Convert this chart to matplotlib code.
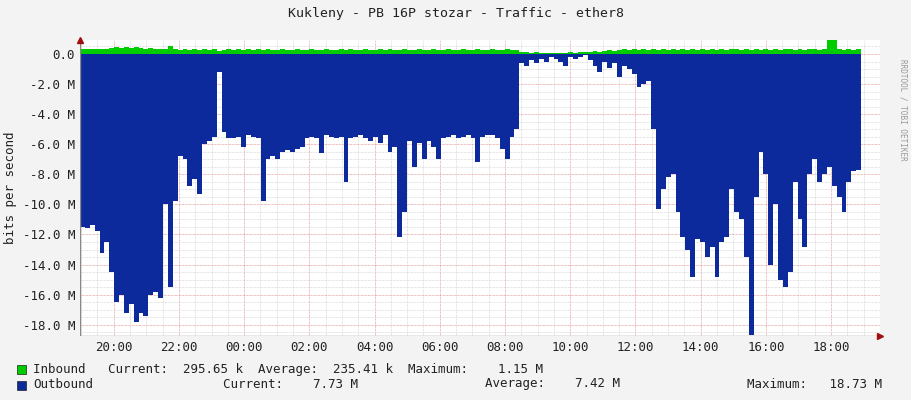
import matplotlib
matplotlib.use("Agg")
import matplotlib.pyplot as plt
import numpy as np

title = "Kukleny - PB 16P stozar - Traffic - ether8"
tick_labels = ["20:00","22:00","00:00","02:00","04:00","06:00","08:00","10:00","12:00","14:00","16:00","18:00"]
# hours relative to 20:00, sample step in hours
start_h = -1.033
step_h = 0.1497
span_h = 23.95
outbound = [11.5,11.6,11.4,11.8,13.2,12.5,14.5,16.5,16.0,17.2,16.6,17.8,17.2,17.4,16.0,15.8,16.2,10.0,15.5,9.8,
            6.8,7.0,8.8,8.3,9.3,6.0,5.8,5.5,1.2,5.2,5.6,5.6,5.5,6.2,5.4,5.5,5.6,9.8,7.0,6.8,
            7.0,6.5,6.4,6.5,6.3,6.2,5.6,5.5,5.6,6.6,5.4,5.5,5.6,5.5,8.5,5.6,5.5,5.4,5.6,5.8,
            5.5,5.9,5.4,6.5,6.2,12.2,10.5,5.8,7.5,5.9,7.0,5.8,6.2,7.0,5.6,5.5,5.4,5.6,5.5,5.4,
            5.6,7.2,5.5,5.4,5.4,5.6,6.3,7.0,5.5,5.0,0.6,0.8,0.4,0.6,0.3,0.5,0.2,0.3,0.5,0.8,
            0.2,0.3,0.2,0.1,0.4,0.8,1.2,0.5,0.9,0.6,1.5,0.8,1.0,1.3,2.2,2.0,1.8,5.0,10.3,9.0,
            8.2,8.0,10.5,12.2,13.0,14.8,12.3,12.5,13.5,12.8,14.8,12.5,12.2,9.0,10.5,11.0,13.5,18.7,9.5,6.5,
            8.0,14.0,10.0,15.0,15.5,14.5,8.5,11.0,12.8,8.0,7.0,8.5,8.0,7.5,8.8,9.5,10.5,8.5,7.8,7.7,7.7]
inbound = [0.35,0.3,0.35,0.3,0.3,0.35,0.4,0.45,0.4,0.45,0.4,0.45,0.4,0.35,0.4,0.35,0.3,0.3,0.5,0.3,
           0.25,0.3,0.25,0.3,0.25,0.3,0.25,0.3,0.2,0.25,0.3,0.25,0.3,0.25,0.3,0.25,0.3,0.25,0.3,0.25,
           0.25,0.3,0.25,0.25,0.3,0.25,0.25,0.3,0.25,0.25,0.3,0.25,0.25,0.3,0.25,0.3,0.25,0.25,0.3,0.25,
           0.25,0.3,0.25,0.3,0.25,0.25,0.3,0.25,0.25,0.3,0.25,0.25,0.3,0.25,0.25,0.3,0.25,0.25,0.3,0.25,
           0.25,0.3,0.25,0.25,0.3,0.25,0.25,0.3,0.25,0.25,0.1,0.1,0.08,0.1,0.08,0.05,0.05,0.06,0.05,0.08,
           0.1,0.08,0.1,0.12,0.15,0.2,0.15,0.2,0.25,0.2,0.25,0.3,0.25,0.3,0.25,0.3,0.25,0.3,0.25,0.3,
           0.25,0.3,0.25,0.3,0.25,0.3,0.25,0.3,0.25,0.3,0.25,0.3,0.25,0.35,0.3,0.25,0.3,0.25,0.3,0.25,
           0.3,0.25,0.3,0.25,0.3,0.35,0.25,0.3,0.25,0.3,0.35,0.25,0.3,1.1,0.9,0.3,0.25,0.3,0.25,0.3,0.3]

t = start_h + step_h * np.arange(len(outbound))
out = -np.array(outbound)
inn = np.array(inbound)

fig = plt.figure(figsize=(9.11, 4.0), dpi=100, facecolor="#f3f3f3")
ax = fig.add_axes([80/911, 1-336/400, 800/911, 296/400])
ax.set_facecolor("white")
ax.fill_between(t, out, 0, step="post", color="#0c2a9c", lw=0, zorder=3)
ax.fill_between(t, inn, 0, step="post", color="#00cc00", lw=0, zorder=3)
ax.set_xlim(start_h, start_h + span_h)
ax.set_ylim(-18.75, 0.93)

ax.set_xticks(np.arange(0, 24, 2))
ax.set_xticklabels(tick_labels)
ax.set_xticks(np.arange(-1, 24, 0.5), minor=True)
yt = np.arange(-18, 1, 2)
ax.set_yticks(yt)
ax.set_yticklabels(["0.0" if v == 0 else f"{v:.1f} M" for v in yt])
ax.set_yticks(np.arange(-18.5, 1, 0.5), minor=True)
ax.grid(True, which="minor", color="#cccccc", lw=0.5, ls=(0, (1, 1)), zorder=1)
ax.grid(True, which="major", color="#e08080", lw=0.5, ls=(0, (1, 1)), zorder=2)
ax.tick_params(which="both", length=0, labelsize=9, colors="#222222")
for lab in ax.get_xticklabels() + ax.get_yticklabels():
    lab.set_family("DejaVu Sans Mono")
for s in ax.spines.values():
    s.set_visible(False)
ax.axhline(ax.get_ylim()[0], color="#888888", lw=1, zorder=4)
ax.axvline(start_h, color="#888888", lw=1, zorder=4)
ax.set_ylabel("bits per second", family="DejaVu Sans Mono", fontsize=9, color="#222222")
ax.plot([1], [0], transform=ax.transAxes, marker=">", color="#a01010", ms=5, clip_on=False, zorder=5)
ax.plot([0], [1], transform=ax.transAxes, marker="^", color="#a01010", ms=5, clip_on=False, zorder=5)

fig.text(0.5, 1-14/400, title, ha="center", va="center", family="DejaVu Sans Mono", fontsize=9.5, color="#222222")
fig.text(903/911, 1-110/400, "RRDTOOL / TOBI OETIKER", rotation=270, ha="center", va="center",
         family="DejaVu Sans Mono", fontsize=5.5, color="#999999")

mono = dict(family="DejaVu Sans Mono", fontsize=9, color="#222222", va="center")
fig.patches.append(plt.Rectangle((17/911, 1-374/400), 9/911, 9/400, transform=fig.transFigure,
                                 facecolor="#00cc00", edgecolor="#222222", lw=0.5))
fig.patches.append(plt.Rectangle((17/911, 1-390/400), 9/911, 9/400, transform=fig.transFigure,
                                 facecolor="#0c2a9c", edgecolor="#222222", lw=0.5))
fig.text(33/911, 1-369/400, "Inbound   Current:  295.65 k  Average:  235.41 k  Maximum:    1.15 M", **mono)
fig.text(33/911, 1-384/400, "Outbound", **mono)
fig.text(223/911, 1-384/400, "Current:    7.73 M", **mono)
fig.text(485/911, 1-384/400, "Average:    7.42 M", **mono)
fig.text(747/911, 1-384/400, "Maximum:   18.73 M", **mono)

fig.savefig("out.png", dpi=100, facecolor=fig.get_facecolor())
